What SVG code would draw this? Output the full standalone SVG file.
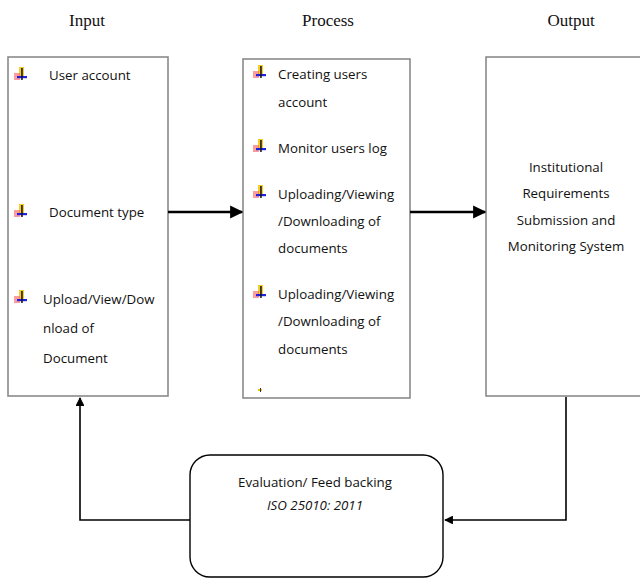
<svg xmlns="http://www.w3.org/2000/svg" width="640" height="579" viewBox="0 0 640 579">
<style>
.hdr{font-family:"Liberation Serif",serif;font-size:17px;fill:#111;text-anchor:middle}
.t{font-family:"Open Sans","Liberation Sans",sans-serif;font-size:13.3px;fill:#111}
.c{text-anchor:middle}
.box{fill:#fff;stroke:#8a8a8a;stroke-width:1.6}
.ln{fill:none;stroke:#000;stroke-width:1.6}
.thk{stroke-width:2.4}
</style>
<defs>
<marker id="ah" viewBox="0 0 10 10" refX="9" refY="5" markerWidth="5.5" markerHeight="5.5" orient="auto-start-reverse" markerUnits="strokeWidth">
<path d="M0,0 L10,5 L0,10 z" fill="#000"/>
</marker>
<g id="bul">
<rect x="-1" y="-8" width="5" height="10" fill="#f5c400" opacity="0.85"/>
<rect x="-6" y="-2" width="6" height="7" fill="#ff5a5a" opacity="0.6"/>
<rect x="-3" y="1" width="10" height="2.2" fill="#2020e0"/>
<rect x="1.2" y="-7" width="1.5" height="12" fill="#111"/>
</g>
</defs>
<rect width="640" height="579" fill="#fff"/>
<text class="hdr" x="87" y="26">Input</text>
<text class="hdr" x="328" y="26">Process</text>
<text class="hdr" x="571" y="26">Output</text>

<g id="input">
<rect class="box" x="8" y="57" width="160" height="339"/>
<use href="#bul" x="20" y="75"/>
<text class="t" x="49" y="80">User account</text>
<use href="#bul" x="20" y="212"/>
<text class="t" x="49" y="217">Document type</text>
<use href="#bul" x="20" y="298"/>
<text class="t" x="43" y="304">Upload/View/Dow</text>
<text class="t" x="43" y="333">nload of</text>
<text class="t" x="43" y="363">Document</text>
</g>

<g id="process">
<rect class="box" x="243" y="59" width="167" height="339"/>
<use href="#bul" x="259" y="73"/>
<text class="t" x="278" y="79">Creating users</text>
<text class="t" x="278" y="107">account</text>
<use href="#bul" x="259" y="147"/>
<text class="t" x="278" y="153">Monitor users log</text>
<use href="#bul" x="259" y="193"/>
<text class="t" x="278" y="199">Uploading/Viewing</text>
<text class="t" x="278" y="226">/Downloading of</text>
<text class="t" x="278" y="253">documents</text>
<use href="#bul" x="259" y="293"/>
<text class="t" x="278" y="299">Uploading/Viewing</text>
<text class="t" x="278" y="326">/Downloading of</text>
<text class="t" x="278" y="354">documents</text>
<rect x="258" y="389" width="4" height="2" fill="#f5c400"/>
<rect x="260" y="388" width="1" height="4" fill="#333"/>
</g>

<g id="output">
<rect class="box" x="486" y="57" width="170" height="339"/>
<text class="t c" x="566" y="172">Institutional</text>
<text class="t c" x="566" y="198">Requirements</text>
<text class="t c" x="566" y="225">Submission and</text>
<text class="t c" x="566" y="251">Monitoring System</text>
</g>

<g id="evaluation">
<rect x="190" y="455" width="253" height="122" rx="20" ry="20" fill="#fff" stroke="#000" stroke-width="1.4"/>
<text class="t c" x="315" y="487">Evaluation/ Feed backing</text>
<text class="t c" x="315" y="510" font-style="italic">ISO 25010: 2011</text>
</g>

<g id="connectors">
<line class="ln thk" x1="168" y1="212" x2="242" y2="212" marker-end="url(#ah)"/>
<line class="ln thk" x1="410" y1="212" x2="485" y2="212" marker-end="url(#ah)"/>
<polyline class="ln" points="566,397 566,520 445,520" stroke-width="2.2" marker-end="url(#ah)"/>
<polyline class="ln" points="190,520 80,520 80,398" marker-end="url(#ah)"/>
</g>
</svg>
